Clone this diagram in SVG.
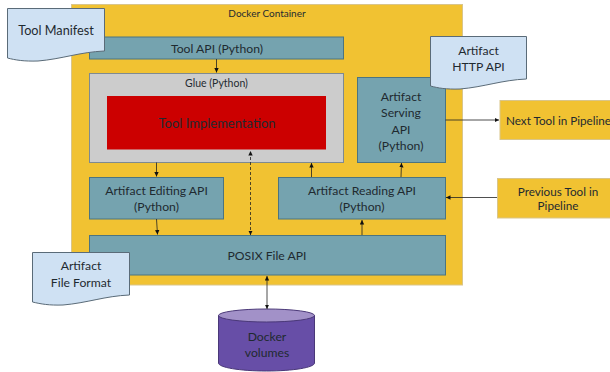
<svg xmlns="http://www.w3.org/2000/svg" width="610" height="372" viewBox="0 0 610 372">
<style>
text{font-family:Lato,"Open Sans",sans-serif;font-size:12.2px;fill:#1f2a30;text-anchor:middle}
.s{font-size:10px}
.g{font-size:10.500px}
.m{font-size:11.700px}
.l{font-size:12.700px}
.teal{fill:#75a3af;stroke:#4c7480;stroke-width:1}
.doc{fill:#cfe1f3;stroke:#5a6b78;stroke-width:1}
.y{fill:#f1c232;stroke:#d9c58a;stroke-width:1}
.c{fill:none;stroke:#222;stroke-width:.8;marker-end:url(#a)}
</style>
<defs>
<marker id="a" markerUnits="userSpaceOnUse" markerWidth="5" markerHeight="5" refX="4.500" refY="2.500" orient="auto-start-reverse"><path d="M0 .3L4.500 2.500L0 4.700z" fill="#111"/></marker>
</defs>
<rect width="610" height="372" fill="#fff"/>
<g id="container"><rect class="y" x="71.500" y="4.500" width="391" height="280.500"/><text class="s" x="267" y="17">Docker Container</text></g>
<g id="tool-api"><rect class="teal" x="89.500" y="37" width="254" height="22"/><text x="217" y="53">Tool API (Python)</text></g>
<g id="glue"><rect x="89.500" y="73.500" width="254" height="89" fill="#cccccc" stroke="#7f8a90"/><text class="g" x="216.500" y="87">Glue (Python)</text></g>
<g id="tool-impl"><rect x="107" y="96" width="219" height="53.500" fill="#cc0000"/><text style="font-size:13px" x="217" y="128">Tool Implementation</text></g>
<g id="serving"><rect class="teal" x="357.500" y="77.500" width="88" height="85"/><text x="401" y="101">Artifact</text><text x="401" y="117">Serving</text><text x="401" y="134">API</text><text x="401" y="150">(Python)</text></g>
<g id="editing"><rect class="teal" x="89.500" y="177.500" width="134" height="41.500"/><text x="156.500" y="195">Artifact Editing API</text><text x="156.500" y="211">(Python)</text></g>
<g id="reading"><rect class="teal" x="278.500" y="177.500" width="167" height="41.500"/><text x="362" y="195">Artifact Reading API</text><text x="362" y="211">(Python)</text></g>
<g id="posix"><rect class="teal" x="89.500" y="235.500" width="356" height="39.500"/><text x="267" y="260">POSIX File API</text></g>
<g id="tool-manifest"><path class="doc" d="M7.500 8.500H104.500V51C80 52 62 59 38 61C24 61.500 15 60 7.500 58z"/><text class="l" x="56" y="35">Tool Manifest</text></g>
<g id="artifact-http"><path class="doc" d="M430.500 36.500H526.500V79C502 80 484 87 460 89C446 89.500 438 88 430.500 86z"/><text x="478.500" y="55">Artifact</text><text x="478.500" y="71">HTTP API</text></g>
<g id="file-format"><path class="doc" d="M32.500 252.500H129.500V295C105 296 87 303 63 305C49 305.500 41 304 32.500 302z"/><text x="81" y="270">Artifact</text><text x="81" y="287">File Format</text></g>
<g id="next-tool"><rect class="y" x="500" y="100.500" width="111" height="39"/><text class="m" x="558.500" y="125">Next Tool in Pipeline</text></g>
<g id="previous-tool"><rect class="y" x="497.500" y="178.500" width="113" height="39.500"/><text class="m" x="558" y="196">Previous Tool in</text><text class="m" x="558" y="210">Pipeline</text></g>
<g id="docker-volumes"><path d="M218.500 315.500V363C218.500 367.500 240 371 266.500 371S314.500 367.500 314.500 363V315.500z" fill="#674ea7" stroke="#4a3878"/><ellipse cx="266.500" cy="315.500" rx="48" ry="6.500" fill="#a291c8" stroke="#4a3878"/><text x="267" y="341">Docker</text><text x="267" y="357">volumes</text></g>
<g id="connectors">
<path class="c" d="M216.500 59V72.500"/>
<path class="c" d="M156.500 162.500V176.500"/>
<path class="c" d="M156.500 219L157.500 234.500"/>
<path class="c" stroke-dasharray="3 2" style="marker-start:url(#a)" d="M250.500 235V151"/>
<path class="c" d="M311.500 177V163"/>
<path class="c" d="M401 177L401.500 163"/>
<path class="c" d="M362 235V220"/>
<path class="c" d="M445.500 120H499"/>
<path class="c" d="M497 197.500H446"/>
<path class="c" style="marker-start:url(#a)" d="M267 309V276"/>
</g>
</svg>
